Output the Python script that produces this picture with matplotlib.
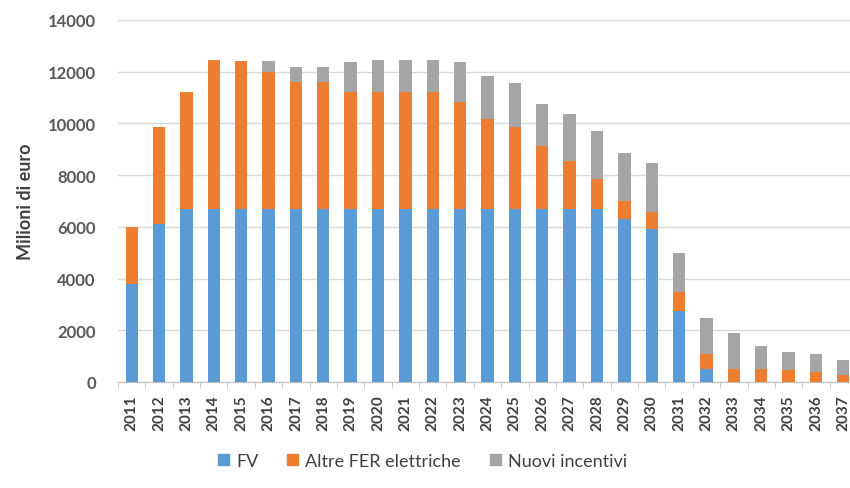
""" Incentivi FER elettriche: stacked bar chart per anno"""
import numpy as np
import matplotlib.pyplot as plt
from matplotlib.patches import Patch

anni = [str(a) for a in range(2011, 2038)]
# FV
fv = [3800, 6100, 6700, 6700, 6700, 6700, 6700, 6700, 6700, 6700, 6700, 6700, 6700, 6700,
	6700, 6700, 6700, 6700, 6300, 5900, 2750, 500, 0, 0, 0, 0, 0]
# Altre FER elettriche
altre_fer = [2200, 3750, 4500, 5750, 5700, 5300, 4900, 4900, 4500, 4500, 4500, 4500, 4130, 3470,
	3150, 2440, 1860, 1150, 710, 660, 720, 580, 500, 500, 480, 370, 280]
# Nuovi incentivi
nuovi_incentivi = [0, 0, 0, 0, 0, 400, 580, 580, 1170, 1250, 1250, 1250, 1540, 1680,
	1730, 1630, 1800, 1870, 1830, 1910, 1500, 1380, 1380, 880, 690, 710, 580]

colori = ["#5B9BD5", "#ED7D31", "#A5A5A5"]
nomi = ["FV", "Altre FER elettriche", "Nuovi incentivi"]

plt.rcParams['font.family'] = ['Lato', 'DejaVu Sans']
fig = plt.figure(figsize=(8.5, 4.89), dpi=100)
ax = fig.add_axes([118/850, 106/489, 739/850, 362/489])

x = np.arange(len(anni))
base = np.zeros(len(anni))
for serie, colore in zip([fv, altre_fer, nuovi_incentivi], colori):
	ax.bar(x, serie, width=0.45, bottom=base, color=colore, zorder=3)
	base = base + np.array(serie)

ax.set_xlim(-0.5, len(anni) - 0.5)
ax.set_ylim(0, 14000)
ax.set_yticks(range(0, 14001, 2000))
ax.set_yticklabels([str(v) for v in range(0, 14001, 2000)], fontweight='bold')
ax.tick_params(axis='y', length=0, labelsize=12, labelcolor="#595959", pad=16)
ax.set_xticks(x)
ax.set_xticklabels(anni, rotation=90, fontsize=11, color="#404040", fontweight='bold')
ax.set_xticks(np.arange(-0.5, len(anni), 1), minor=True)
ax.tick_params(axis='x', which='major', length=0, pad=9)
ax.tick_params(axis='x', which='minor', length=4, color="#BFBFBF")
ax.grid(axis='y', color="#D9D9D9", linewidth=1, zorder=0)
for lato in ['top', 'right', 'left']:
	ax.spines[lato].set_visible(False)
ax.spines['bottom'].set_color("#BFBFBF")
ax.set_ylabel("Milioni di euro", fontsize=13, color="#404040", fontweight='bold', labelpad=10)

maniglie = [Patch(color=c, label=n) for c, n in zip(colori, nomi)]
fig.legend(handles=maniglie, loc='center', bbox_to_anchor=(0.497, 0.055), ncol=3,
	frameon=False, fontsize=13, handlelength=0.6, handleheight=0.6,
	columnspacing=1.6, handletextpad=0.4, labelcolor="#404040")

plt.savefig("out.png", dpi=100)
